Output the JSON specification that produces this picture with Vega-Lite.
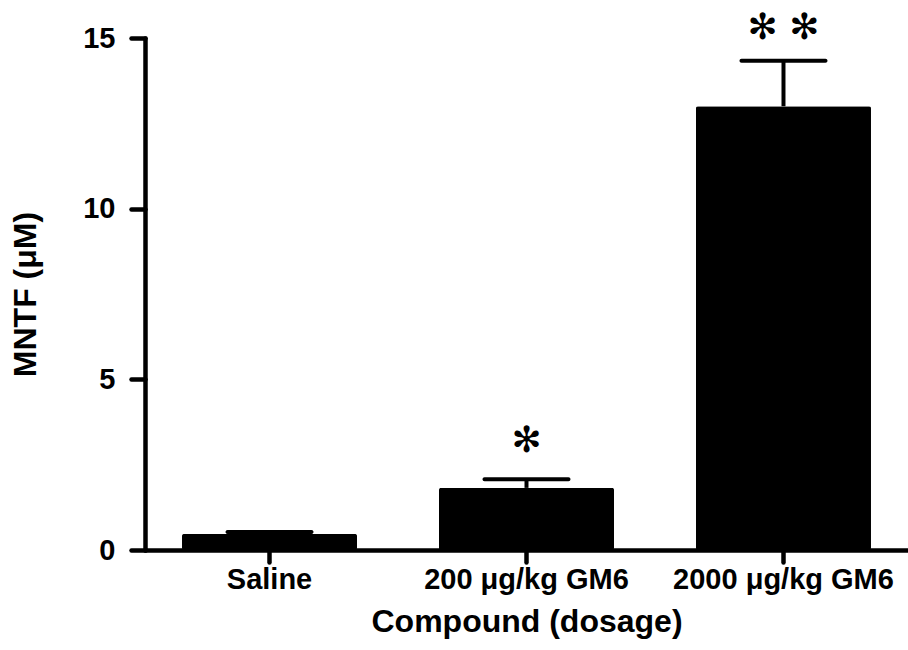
{
  "$schema": "https://vega.github.io/schema/vega-lite/v6.json",
  "autosize": {"type": "none"},
  "padding": {"left": 145, "top": 38, "right": 0, "bottom": 100},
  "width": 763,
  "height": 512,
  "background": "white",
  "data": {
    "values": [
      {"group": "Saline", "mean": 0.47, "upper": 0.53, "sig": "", "sig_y": 0.8},
      {"group": "200 μg/kg GM6", "mean": 1.82, "upper": 2.07, "sig": "✻", "sig_y": 3.2},
      {"group": "2000 μg/kg GM6", "mean": 13.0, "upper": 14.33, "sig": "✻ ✻", "sig_y": 15.3}
    ]
  },
  "config": {
    "view": {"stroke": null},
    "axis": {
      "domainColor": "black",
      "domainWidth": 4.5,
      "domainCap": "round",
      "tickColor": "black",
      "tickWidth": 4.5,
      "tickCap": "round",
      "grid": false,
      "labelFont": "Liberation Sans",
      "labelFontWeight": "bold",
      "labelColor": "black",
      "labelFontSize": 29,
      "labelLimit": 0,
      "titleFont": "Liberation Sans",
      "titleFontWeight": "bold",
      "titleColor": "black",
      "titleFontSize": 32
    }
  },
  "encoding": {
    "x": {
      "field": "group",
      "type": "nominal",
      "sort": null,
      "scale": {"paddingInner": 0.319, "paddingOuter": 0.144},
      "axis": {
        "title": "Compound (dosage)",
        "labelAngle": 0,
        "tickSize": 12,
        "labelPadding": 3,
        "titlePadding": 12
      }
    }
  },
  "layer": [
    {
      "mark": {"type": "rule", "color": "black", "strokeWidth": 4},
      "encoding": {
        "y": {"field": "mean", "type": "quantitative"},
        "y2": {"field": "upper"}
      }
    },
    {
      "mark": {"type": "tick", "color": "black", "opacity": 1, "size": 88, "thickness": 4, "cornerRadius": 2},
      "encoding": {
        "y": {"field": "upper", "type": "quantitative"}
      }
    },
    {
      "mark": {"type": "bar", "color": "black", "cornerRadius": 2},
      "encoding": {
        "y": {
          "field": "mean",
          "type": "quantitative",
          "scale": {"domain": [0, 15], "nice": false},
          "axis": {
            "title": "MNTF (μM)",
            "values": [0, 5, 10, 15],
            "tickSize": 14,
            "labelPadding": 16,
            "titlePadding": 40
          }
        }
      }
    },
    {
      "mark": {"type": "text", "font": "DejaVu Sans", "fontSize": 36, "baseline": "middle", "color": "black", "clip": false},
      "encoding": {
        "y": {"field": "sig_y", "type": "quantitative"},
        "text": {"field": "sig"}
      }
    }
  ]
}
